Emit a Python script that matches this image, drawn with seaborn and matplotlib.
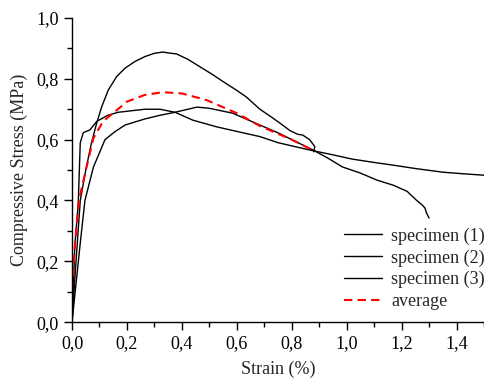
import matplotlib
matplotlib.use("Agg")
import matplotlib.pyplot as plt
import seaborn as sns
import pandas as pd
import numpy as np
from matplotlib.ticker import MultipleLocator, FuncFormatter

# Specimen (1): highest peak
s1_x = [0.0, 0.01, 0.02, 0.03, 0.05, 0.071, 0.09, 0.108, 0.132, 0.162, 0.193, 0.229, 0.265, 0.30,
        0.33, 0.36, 0.38, 0.42, 0.465, 0.51, 0.56, 0.60, 0.635, 0.684, 0.72, 0.756, 0.793, 0.82,
        0.84, 0.865, 0.884, 0.88]
s1_y = [0.0, 0.14, 0.27, 0.40, 0.50, 0.59, 0.655, 0.708, 0.763, 0.807, 0.835, 0.857, 0.873, 0.884,
        0.888, 0.884, 0.882, 0.865, 0.84, 0.815, 0.785, 0.762, 0.74, 0.70, 0.678, 0.655, 0.63, 0.618,
        0.615, 0.60, 0.577, 0.56]

# Specimen (2): early knee, long tail
s2_x = [0.0, 0.005, 0.01, 0.02, 0.023, 0.03, 0.041, 0.065, 0.09, 0.13, 0.168, 0.265, 0.32, 0.375,
        0.44, 0.527, 0.61, 0.684, 0.75, 0.865, 0.95, 1.02, 1.10, 1.17, 1.25, 1.35, 1.42, 1.5]
s2_y = [0.0, 0.12, 0.25, 0.36, 0.40, 0.59, 0.623, 0.632, 0.66, 0.68, 0.69, 0.70, 0.70, 0.69,
        0.664, 0.642, 0.625, 0.61, 0.59, 0.566, 0.55, 0.536, 0.525, 0.516, 0.505, 0.493, 0.488, 0.483]

# Specimen (3): slow rise, latest peak, early failure
s3_x = [0.0, 0.015, 0.03, 0.047, 0.078, 0.12, 0.156, 0.193, 0.265, 0.32, 0.375, 0.455, 0.50,
        0.585, 0.684, 0.756, 0.80, 0.877, 0.93, 0.985, 1.05, 1.11, 1.17, 1.22, 1.255, 1.275,
        1.285, 1.29, 1.30]
s3_y = [0.0, 0.13, 0.26, 0.40, 0.51, 0.60, 0.626, 0.648, 0.668, 0.68, 0.69, 0.707, 0.703,
        0.687, 0.648, 0.62, 0.60, 0.566, 0.54, 0.51, 0.49, 0.467, 0.45, 0.43, 0.40, 0.385,
        0.375, 0.36, 0.342]

# Average curve
avg_x = [0.0, 0.011, 0.023, 0.03, 0.053, 0.078, 0.113, 0.167, 0.20, 0.265, 0.33, 0.40, 0.49,
         0.60, 0.684, 0.73, 0.80, 0.877]
avg_y = [0.105, 0.26, 0.38, 0.42, 0.51, 0.605, 0.66, 0.70, 0.725, 0.747, 0.756, 0.752, 0.73,
         0.687, 0.645, 0.627, 0.60, 0.565]

labels = ["specimen (1)", "specimen (2)", "specimen (3)", "average"]

frames = []
for lab, xs, ys in zip(labels, [s1_x, s2_x, s3_x, avg_x], [s1_y, s2_y, s3_y, avg_y]):
    frames.append(pd.DataFrame({"strain": xs, "stress": ys, "series": lab}))
df = pd.concat(frames, ignore_index=True)

sns.set_style("ticks")
plt.rcParams['font.family'] = ['Liberation Serif', 'DejaVu Serif']
plt.rcParams['font.size'] = 13

fig = plt.figure(figsize=(4.85, 3.83), dpi=100)
ax = fig.add_axes([0.1485, 0.159, 0.8495, 0.794])

palette = {"specimen (1)": "black", "specimen (2)": "black", "specimen (3)": "black", "average": "red"}
dashes = {"specimen (1)": "", "specimen (2)": "", "specimen (3)": "", "average": (4, 2.5)}
sns.lineplot(data=df, x="strain", y="stress", hue="series", style="series",
             palette=palette, dashes=dashes, sort=False, estimator=None, ax=ax,
             linewidth=1.0, legend=True)
ax.get_lines()[3].set_linewidth(1.5)

ax.set_xlim(0, 1.5)
ax.set_ylim(0, 1.0)
ax.xaxis.set_major_locator(MultipleLocator(0.2))
ax.xaxis.set_minor_locator(MultipleLocator(0.1))
ax.yaxis.set_major_locator(MultipleLocator(0.2))
ax.yaxis.set_minor_locator(MultipleLocator(0.1))
fmt = FuncFormatter(lambda v, p: f"{v:.1f}".replace(".", ","))
ax.xaxis.set_major_formatter(fmt)
ax.yaxis.set_major_formatter(fmt)
ax.tick_params(which="major", direction="out", length=6, width=1, labelsize=13, colors="black")
ax.tick_params(which="minor", direction="out", length=3.5, width=1, colors="black")
for s in ["top", "right"]:
    ax.spines[s].set_visible(False)
for s in ["left", "bottom"]:
    ax.spines[s].set_linewidth(1.0)
    ax.spines[s].set_color("black")

ax.set_xlabel("Strain (%)", fontsize=13, labelpad=6)
ax.set_ylabel("Compressive Stress (MPa)", fontsize=13, labelpad=6)

handles, labs = ax.get_legend_handles_labels()
handles[3].set_linewidth(1.5)
ax.legend(handles, labs, loc="lower right", frameon=False, fontsize=13,
          handlelength=2.1, handletextpad=0.5, labelspacing=0.25,
          borderaxespad=0.0, borderpad=0.0, bbox_to_anchor=(1.0025, 0.04))

fig.savefig("out.png", dpi=100)
